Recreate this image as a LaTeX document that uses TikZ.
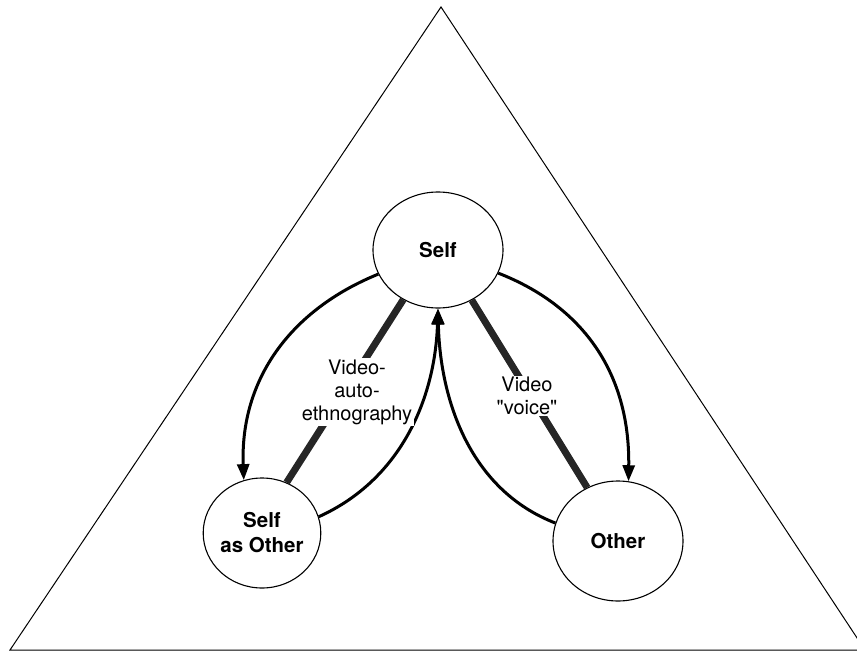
\documentclass[tikz,border=0pt]{standalone}
\usepackage{fontspec}
\setmainfont{TeX Gyre Heros}[Ligatures=TeXOff]
\usetikzlibrary{shapes.geometric,arrows.meta}
\begin{document}
\begin{tikzpicture}[x=1pt,y=-1pt,
  circ/.style={ellipse,draw,line width=1.1pt,inner sep=0pt,align=center,
    font=\fontsize{20.5}{25}\selectfont\bfseries},
  flow/.style={line width=3pt,-{Triangle[length=16pt,width=12pt]}},
  bar/.style={line width=7pt,draw=black!85},
  lbl/.style={fill=white,inner sep=1.5pt,align=center,font=\fontsize{20}{23}\selectfont}]
\useasboundingbox (0,0) rectangle (857,653);
\clip (0,0) rectangle (857,653);
\coordinate (apex) at (441,7);
\coordinate (bl) at (10,650);
\coordinate (br) at (865,650);
\draw[line width=1pt] (apex) -- (br) -- (bl) -- cycle;

\node[circ,minimum width=130pt,minimum height=116pt] (self) at (438,250) {Self};
\node[circ,minimum width=112pt,minimum height=110pt] (sao) at (262,533) {Self\\as Other};
\node[circ,minimum width=130pt,minimum height=120pt] (other) at (618,541) {Other};

\draw[flow] (self.202) .. controls (290,310) and (240,380) .. (sao.109);
\draw[flow] (self.339) .. controls (580,305) and (630,370) .. (other.80);
\draw[flow] (sao.16) .. controls (400,480) and (435,400) .. (self.270);
\draw[flow] (other.164) .. controls (470,490) and (440,400) .. (self.270);

\draw[bar] (self.235) -- (sao.64);
\draw[bar] (self.304) -- (other.120);

\node[lbl] (l1) at (357,392) {Video-\\auto-\\ethnography};
\node[lbl] (l2) at (527,396) {Video\\"voice"};
\end{tikzpicture}
\end{document}
